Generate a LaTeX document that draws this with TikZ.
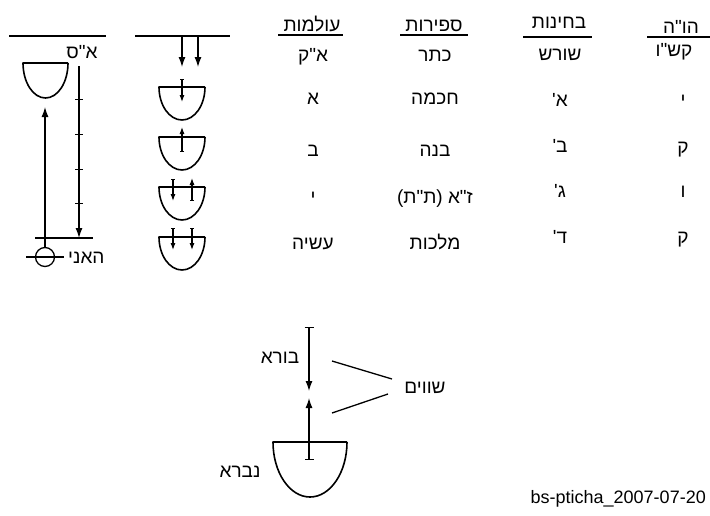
\documentclass[tikz,border=0pt]{standalone}
\usepackage{fontspec}
\setmainfont{Liberation Sans}
\newfontfamily\heb[Script=Hebrew]{Liberation Sans}
\TeXXeTstate=1
\usetikzlibrary{arrows.meta}
\newcommand{\hb}[1]{{\heb\beginR #1\endR}}

\tikzset{
  line/.style={line width=1.3pt},
  kli/.style={line width=1.6pt, line join=round},
  tick/.style={line width=1pt},
  long arrow/.style={line width=1.3pt, -{Latex[length=10pt,width=7pt]}},
  short arrow/.style={line width=1.1pt, {Bar[width=4pt,line width=1pt]}-{Latex[length=7pt,width=5pt]}},
  bar arrow/.style={line width=1.3pt, {Bar[width=9pt,line width=1pt]}-{Latex[length=10pt,width=7pt]}},
  lbl/.style={inner sep=0pt, anchor=base, font=\fontsize{19}{22}\selectfont},
}

\begin{document}
\begin{tikzpicture}[x=1pt, y=-1pt]
  \useasboundingbox (0,0) rectangle (710,515);

  % column 1: ein sof and ani
  \draw[line] (9,36) -- (106,36);
  \draw[kli] (68,63) -- (23,63) arc[start angle=180, end angle=0, x radius=22.5, y radius=35];
  \node[lbl] (ein sof) at (82,58) {\hb{א"ס}};
  \coordinate (as top) at (79,66);
  \coordinate (as bot) at (79,238);
  \draw[long arrow] (as top) -- (as bot);
  \foreach \y in {99,134,169,203}
    \draw[tick] (75,\y) -- (83,\y);
  \draw[line] (35,238) -- (93,238);
  \node[circle, draw, line width=1.3pt, minimum size=19pt, inner sep=0pt] (ani) at (45,257) {};
  \draw[line] (26,257) -- (64,257);
  \coordinate (kli top) at (45,107);
  \draw[long arrow] (ani.north) -- (kli top);
  \node[lbl, anchor=base west] (ani label) at (68,263) {\hb{האני}};

  % column 2: the four kelim
  \draw[line] (135,36) -- (230,36);
  \draw[long arrow] (182,36) -- (182,67);
  \draw[long arrow] (198,36) -- (198,67);
  \foreach \y in {87,137,187,237}
    \draw[kli] (205,\y) -- (159,\y) arc[start angle=180, end angle=0, x radius=23, y radius=33];
  \draw[short arrow] (182,79) -- (182,102);
  \draw[short arrow] (182,152) -- (182,127);
  \draw[short arrow] (173,179) -- (173,201);
  \draw[short arrow] (192,201) -- (192,178);
  \draw[short arrow] (173,228) -- (173,250);
  \draw[short arrow] (192,228) -- (192,250);

  % table headers
  \node[lbl] (olamot) at (312,31) {\hb{עולמות}};
  \draw[line] (278,35) -- (343,35);
  \node[lbl] (sefirot) at (434,31) {\hb{ספירות}};
  \draw[line] (400,35) -- (468,35);
  \node[lbl] (bchinot) at (559,28) {\hb{בחינות}};
  \draw[line] (523,37) -- (592,37);
  \node[lbl] (havaye) at (681,33) {\hb{הו"ה}};
  \draw[line] (647,37) -- (710,37);

  % table rows
  \foreach \y/\t [count=\i] in {61/א"ק, 104/א, 156/ב, 203/י, 249/עשיה}
    \node[lbl] (olam \i) at (313,\y) {\hb{\t}};
  \foreach \y/\t [count=\i] in {61/כתר, 104/חכמה, 156/בנה, 203/{ז"א (ת"ת)}, 249/מלכות}
    \node[lbl] (sefira \i) at (435,\y) {\hb{\t}};
  \foreach \y/\t [count=\i] in {60/שורש, 106/א', 152/ב', 197/ג', 243/ד'}
    \node[lbl] (bchina \i) at (560,\y) {\hb{\t}};
  \node[lbl] (ot 1) at (674,56) {\hb{קש"ו}};
  \foreach \y/\t [count=\i from 2] in {106/י, 153/ק, 197/ו, 243/ק}
    \node[lbl] (ot \i) at (683,\y) {\hb{\t}};

  % bottom: bore and nivra
  \coordinate (bore top) at (309,327);
  \coordinate (bore tip) at (309,391);
  \coordinate (nivra tip) at (309,398);
  \coordinate (nivra bot) at (309,460);
  \draw[bar arrow] (bore top) -- (bore tip);
  \draw[bar arrow] (nivra bot) -- (nivra tip);
  \draw[kli] (347,442) -- (273,442) arc[start angle=180, end angle=0, x radius=37, y radius=55];
  \node[lbl] (bore) at (280,363) {\hb{בורא}};
  \node[lbl] (shavim) at (425,393) {\hb{שווים}};
  \node[lbl] (nivra) at (240,477) {\hb{נברא}};
  \coordinate (shavim up) at (392,379);
  \coordinate (shavim down) at (388,394);
  \draw[line] (332,361) -- (shavim up);
  \draw[line] (332,413) -- (shavim down);

  \node[lbl, anchor=base east, font=\fontsize{18}{21}\selectfont] (stamp) at (706,503) {bs-pticha\_2007-07-20};
\end{tikzpicture}
\end{document}
